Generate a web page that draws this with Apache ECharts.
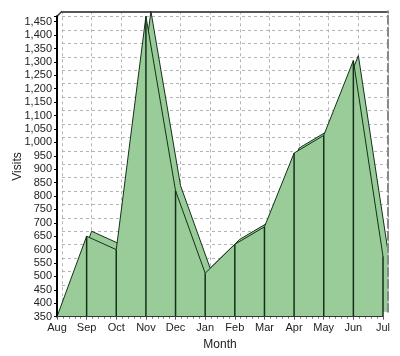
<!DOCTYPE html>
<html>
<head>
<meta charset="utf-8">
<script src="https://cdn.jsdelivr.net/npm/echarts@6/dist/echarts.min.js"></script>
<style>html,body{margin:0;padding:0;background:#fff}#c{width:400px;height:356px}</style>
</head>
<body>
<div id="c"></div>
<script>
const months = ['Aug','Sep','Oct','Nov','Dec','Jan','Feb','Mar','Apr','May','Jun','Jul'];
const visits = [350, 650, 600, 1470, 820, 512, 620, 685, 960, 1026, 1305, 575];
const yMin = 350, yMax = 1470, yStep = 50;

const DEPTH = 5;
const GREEN = '#99cc99';
const EDGE = '#14301a';

const chart = echarts.init(document.getElementById('c'), null, {renderer: 'canvas'});
const fmt = v => (v % yStep === 0 ? v.toLocaleString('en-US') : '');

const option = {
  animation: false,
  backgroundColor: '#ffffff',
  textStyle: {fontFamily: 'Liberation Sans, Arial, sans-serif'},
  grid: [
    {left: 57, right: 17, top: 16.3, bottom: 39.3},
    {left: 57 + DEPTH, right: 17 - DEPTH, top: 16.3 - DEPTH, bottom: 39.3 + DEPTH}
  ],
  xAxis: [
    {gridIndex: 0, type: 'category', data: months, boundaryGap: false, z: 5,
     axisLine: {lineStyle: {color: '#333', width: 1}},
     axisTick: {show: true, length: 3, alignWithLabel: true, lineStyle: {color: '#555'}},
     axisLabel: {color: '#222', fontSize: 11, margin: 6},
     splitLine: {show: false},
     name: 'Month', nameLocation: 'middle', nameGap: 22, nameMoveOverlap: false,
     nameTextStyle: {color: '#222', fontSize: 12}},
    {gridIndex: 1, type: 'category', data: months, boundaryGap: false, position: 'top',
     axisLine: {show: true, lineStyle: {color: '#555', width: 2}},
     axisTick: {show: false}, axisLabel: {show: false},
     splitLine: {show: true, lineStyle: {color: '#b4b4b4', type: [3, 3], width: 1}}},
    {gridIndex: 0, type: 'value', min: 0, max: months.length - 1, interval: 1, position: 'bottom',
     axisLine: {show: false}, axisTick: {show: false}, axisLabel: {show: false},
     splitLine: {show: false},
     minorTick: {show: true, splitNumber: 5, length: 2, lineStyle: {color: '#777'}}}
  ],
  yAxis: [
    {gridIndex: 0, type: 'value', min: yMin, max: yMax, interval: yStep, z: 5,
     axisLine: {show: true, lineStyle: {color: '#000', width: 2}},
     axisTick: {show: true, length: 3, lineStyle: {color: '#000'}},
     axisLabel: {color: '#222', fontSize: 11, margin: 5, formatter: fmt},
     splitLine: {show: false},
     name: 'Visits', nameLocation: 'middle', nameGap: 33, nameMoveOverlap: false,
     nameTextStyle: {color: '#222', fontSize: 12}},
    {gridIndex: 1, type: 'value', min: yMin, max: yMax, interval: yStep, position: 'left',
     axisLine: {show: false}, axisTick: {show: false}, axisLabel: {show: false},
     splitLine: {show: true, lineStyle: {color: '#b4b4b4', type: [3, 3], width: 1}}},
    {gridIndex: 1, type: 'value', min: yMin, max: yMax, interval: yStep, position: 'right', z: 6,
     axisLine: {show: true, lineStyle: {color: '#888', width: 2, type: 'dashed'}},
     axisTick: {show: false}, axisLabel: {show: false}, splitLine: {show: false}}
  ],
  series: [
    {type: 'line', xAxisIndex: 1, yAxisIndex: 1, data: visits, symbol: 'none', z: 1,
     lineStyle: {color: EDGE, width: 1}, areaStyle: {color: GREEN, opacity: 1, origin: 'start'}},
    {type: 'line', xAxisIndex: 0, yAxisIndex: 0, data: visits, symbol: 'none', z: 3,
     lineStyle: {color: EDGE, width: 1}, areaStyle: {color: GREEN, opacity: 1, origin: 'start'}},
    {type: 'custom', xAxisIndex: 0, yAxisIndex: 0, z: 4,
     data: visits.map((v, i) => [i, v]),
     renderItem: function (params, api) {
       const i = api.value(0), v = api.value(1);
       const top = api.coord([i, v]);
       const bot = api.coord([i, yMin]);
       return {type: 'line', shape: {x1: top[0], y1: top[1], x2: bot[0], y2: bot[1]},
               style: {stroke: EDGE, lineWidth: 1.5}};
     }},
    {type: 'custom', xAxisIndex: 0, yAxisIndex: 0, z: 5,
     data: [[0, yMax]],
     renderItem: function (params, api) {
       const p = api.coord([api.value(0), api.value(1)]);
       return {type: 'line', shape: {x1: p[0], y1: p[1], x2: p[0] + DEPTH, y2: p[1] - DEPTH},
               style: {stroke: '#333', lineWidth: 1.5}};
     }}
  ]
};
chart.setOption(option);
</script>
</body>
</html>
